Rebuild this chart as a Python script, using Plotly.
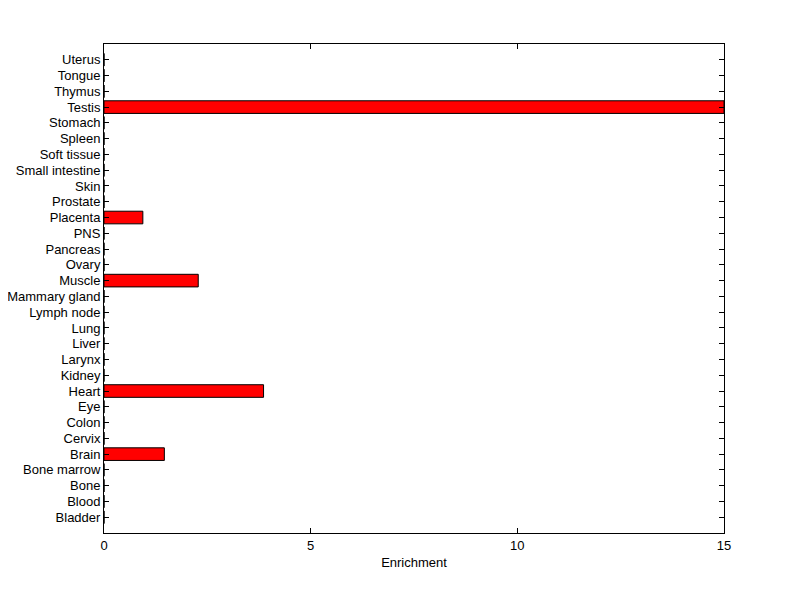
import plotly.graph_objects as go

tissues = ["Bladder", "Blood", "Bone", "Bone marrow", "Brain", "Cervix", "Colon", "Eye",
           "Heart", "Kidney", "Larynx", "Liver", "Lung", "Lymph node", "Mammary gland",
           "Muscle", "Ovary", "Pancreas", "PNS", "Placenta", "Prostate", "Skin",
           "Small intestine", "Soft tissue", "Spleen", "Stomach", "Testis", "Thymus",
           "Tongue", "Uterus"]
enrichment = [0, 0, 0, 0, 1.46, 0, 0, 0,
              3.86, 0, 0, 0, 0, 0, 0,
              2.28, 0, 0, 0, 0.94, 0, 0,
              0, 0, 0, 0, 15, 0,
              0, 0]
x_ticks = [0, 5, 10, 15]

positions = list(range(1, len(tissues) + 1))

fig = go.Figure()
fig.add_trace(go.Bar(
    x=enrichment,
    y=positions,
    orientation="h",
    width=0.8,
    marker=dict(color="#ff0000", line=dict(color="black", width=1)),
    showlegend=False,
))

# page body has an 8px margin, so pull the plot area up/left by that much
fig.update_layout(
    width=800, height=599,
    margin=dict(l=96, r=84, t=36, b=74),
    paper_bgcolor="white",
    plot_bgcolor="white",
    font=dict(family="Liberation Sans, Arial, sans-serif", size=13, color="black"),
)
fig.update_xaxes(
    range=[0, 15],
    tickvals=x_ticks,
    ticks="inside", ticklen=5, tickcolor="black",
    showline=True, linecolor="black", linewidth=1, mirror="ticks",
    showgrid=False, zeroline=False, automargin=False,
    title=dict(text="Enrichment", font=dict(size=13), standoff=6),
)
fig.update_yaxes(
    range=[0, len(tissues) + 1],
    tickvals=positions,
    ticktext=tissues,
    ticks="inside", ticklen=5, tickcolor="black",
    showline=True, linecolor="black", linewidth=1, mirror="ticks",
    showgrid=False, zeroline=False, automargin=False,
)

fig.write_html("out.html")
